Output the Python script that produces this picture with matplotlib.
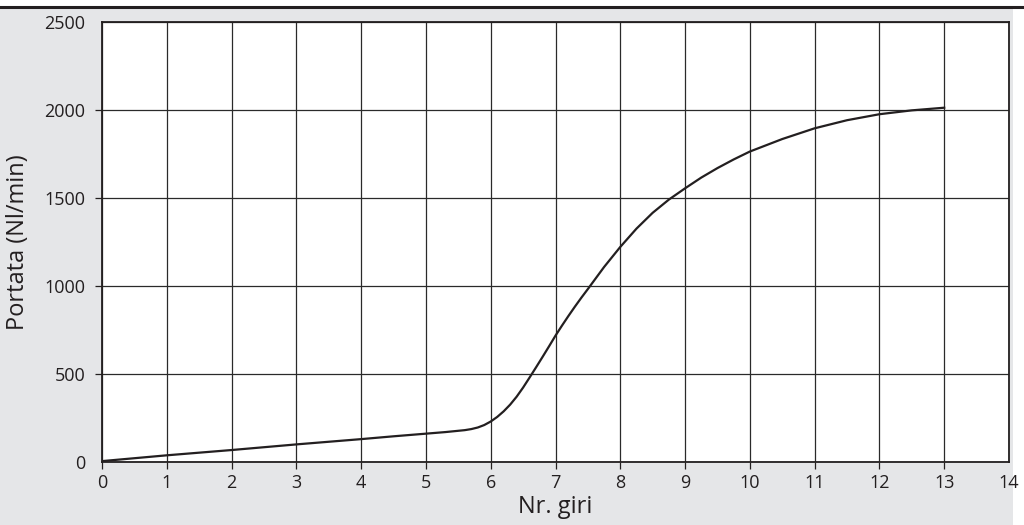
import matplotlib.pyplot as plt
from matplotlib.patches import Rectangle
from matplotlib.lines import Line2D

# --- data ---
giri = [0, 1, 2, 3, 4, 4.5, 5, 5.3,
        5.6, 5.7, 5.8, 5.9, 6.0, 6.1, 6.2, 6.3, 6.4, 6.5, 6.6, 6.7, 6.8, 6.9, 7.0,
        7.1, 7.2, 7.3, 7.4, 7.5, 7.75, 8.0, 8.25, 8.5, 8.75, 9.0, 9.25, 9.5, 9.75,
        10, 10.5, 11, 11.5, 12, 12.5, 13]
portata = [5, 38, 68, 100, 130, 146, 161, 170,
           181, 187, 196, 210, 230, 256, 288, 326, 371, 423, 480, 538, 597, 657, 718,
           775, 830, 883, 934, 983, 1108, 1222, 1326, 1416, 1491, 1555, 1616, 1670, 1719,
           1764, 1835, 1896, 1942, 1976, 1998, 2013]
x_ticks = list(range(0, 15))
y_ticks = [0, 500, 1000, 1500, 2000, 2500]

dark = '#231f20'
grey_bg = '#e5e6e8'

plt.rcParams['font.family'] = ['Open Sans', 'DejaVu Sans']

fig = plt.figure(figsize=(10.24, 5.25), dpi=100)
fig.patch.set_facecolor('white')

# grey panel and top rule
fig.patches.append(Rectangle((0, 0), 1013 / 1024, 1 - 9 / 525,
                             transform=fig.transFigure, facecolor=grey_bg,
                             edgecolor='none', zorder=-10))
fig.lines.append(Line2D([0, 1], [1 - 7 / 525, 1 - 7 / 525], transform=fig.transFigure,
                        color=dark, lw=2.2))

ax = fig.add_axes([102 / 1024, 1 - 462 / 525, (1009 - 102) / 1024, (462 - 22) / 525])
ax.set_facecolor('white')

ax.plot(giri, portata, color=dark, lw=1.6, zorder=3, solid_joinstyle='round')

ax.set_xlim(0, 14)
ax.set_ylim(0, 2500)
ax.set_xticks(x_ticks)
ax.set_yticks(y_ticks)
ax.grid(True, color='#2a2a2a', lw=0.9)
ax.set_axisbelow(True)

for s in ax.spines.values():
    s.set_color(dark)
    s.set_linewidth(1.3)

ax.tick_params(axis='both', direction='out', length=5, width=0.9, color=dark,
               labelsize=13, labelcolor=dark)
ax.tick_params(axis='x', pad=4)
ax.tick_params(axis='y', pad=7)

# no tick stubs at the frame corners, as in the original
ax.yaxis.get_major_ticks()[0].tick1line.set_visible(False)
ax.yaxis.get_major_ticks()[-1].tick1line.set_visible(False)
ax.xaxis.get_major_ticks()[-1].tick1line.set_visible(False)

ax.set_xlabel('Nr. giri', fontsize=17, color=dark, labelpad=2)
ax.set_ylabel('Portata (Nl/min)', fontsize=17, color=dark, labelpad=10)

fig.savefig('out.png', dpi=100)
